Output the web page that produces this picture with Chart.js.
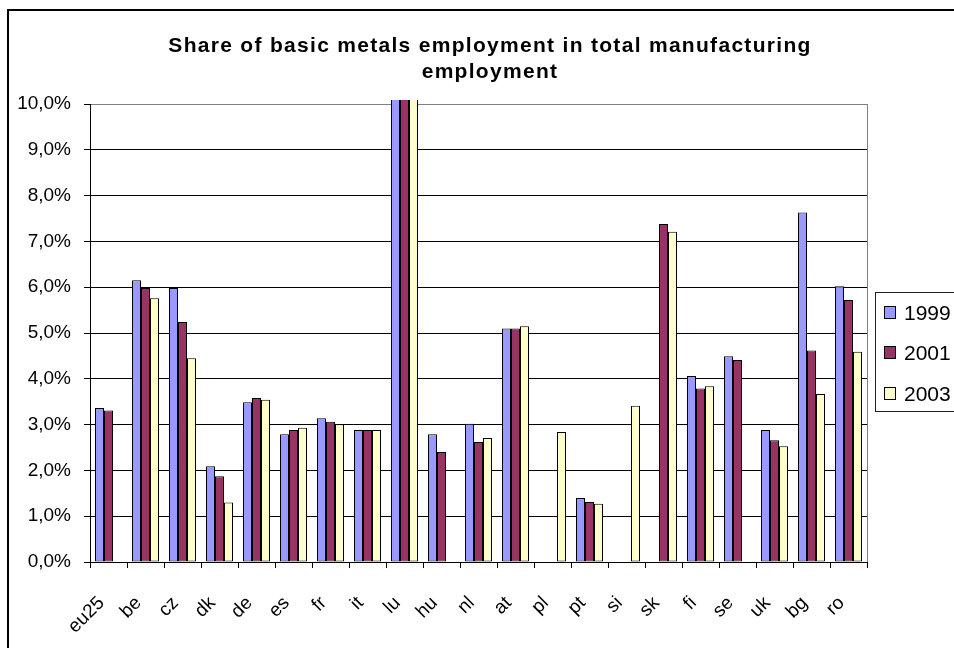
<!DOCTYPE html>
<html>
<head>
<meta charset="utf-8">
<script src="https://cdn.jsdelivr.net/npm/chart.js@4.4.1/dist/chart.umd.min.js"></script>
<style>
  html, body { margin: 0; padding: 0; background: #fff; }
  #wrap { position: relative; width: 954px; height: 648px; }
  canvas { display: block; }
</style>
</head>
<body>
<div id="wrap"><canvas id="c" width="954" height="648"></canvas></div>
<script>
const categories = ['eu25','be','cz','dk','de','es','fr','it','lu','hu','nl','at','pl','pt','si','sk','fi','se','uk','bg','ro'];
const seriesNames = ['1999','2001','2003'];
const values1999 = [3.36, 6.15, 5.98, 2.09, 3.49, 2.79, 3.14, 2.88, 11, 2.79, 3.02, 5.10, null, 1.40, null, null, 4.06, 4.49, 2.88, 7.63, 6.02];
const values2001 = [3.31, 5.98, 5.24, 1.87, 3.58, 2.88, 3.06, 2.88, 11, 2.40, 2.62, 5.10, null, 1.31, null, 7.38, 3.79, 4.41, 2.66, 4.62, 5.72];
const values2003 = [null, 5.76, 4.45, 1.30, 3.54, 2.93, 3.01, 2.88, 11, null, 2.71, 5.15, 2.84, 1.27, 3.41, 7.21, 3.84, null, 2.53, 3.67, 4.59];
const yTicks = [0,1,2,3,4,5,6,7,8,9,10];
const titleLines = ['Share of basic metals employment in total manufacturing', 'employment'];
const colors = ['#9999FF', '#993366', '#FFFFCC'];

const seriesValues = [values1999, values2001, values2003];

const decorPlugin = {
  id: 'decor',
  beforeDraw(chart) {
    const ctx = chart.ctx;
    ctx.save();
    ctx.fillStyle = '#fff';
    ctx.fillRect(0, 0, chart.width, chart.height);
    ctx.restore();
  },
  afterDraw(chart) {
    const ctx = chart.ctx;
    const a = chart.chartArea;
    ctx.save();
    // plot right border (gray)
    ctx.strokeStyle = '#808080';
    ctx.lineWidth = 1;
    ctx.beginPath();
    ctx.moveTo(Math.round(a.right) + 0.5, a.top);
    ctx.lineTo(Math.round(a.right) + 0.5, a.bottom);
    ctx.stroke();

    // outer frame
    ctx.strokeStyle = '#000';
    ctx.lineWidth = 2;
    ctx.strokeRect(8, 10, 1000, 700);

    // title
    ctx.fillStyle = '#000';
    ctx.font = 'bold 21px "Liberation Sans", Arial, sans-serif';
    ctx.textAlign = 'center';
    ctx.textBaseline = 'alphabetic';
    try { ctx.letterSpacing = '1.3px'; } catch (e) {}
    ctx.fillText(titleLines[0], 490, 52);
    ctx.fillText(titleLines[1], 490, 78);
    try { ctx.letterSpacing = '0px'; } catch (e) {}

    // legend
    ctx.strokeStyle = '#222';
    ctx.lineWidth = 1;
    ctx.strokeRect(875.5, 292.5, 120, 119);
    ctx.font = '21px "Liberation Sans", Arial, sans-serif';
    ctx.textAlign = 'left';
    ctx.textBaseline = 'middle';
    const centers = [313, 353, 394];
    chart.data.datasets.forEach((ds, i) => {
      const cy = centers[i];
      ctx.fillStyle = ds.backgroundColor;
      ctx.fillRect(884.5, cy - 6.5, 11, 12);
      ctx.strokeStyle = '#000';
      ctx.strokeRect(884.5, cy - 6.5, 11, 12);
      ctx.fillStyle = '#000';
      ctx.fillText(ds.label, 904, cy + 1);
    });
    ctx.restore();
  }
};

new Chart(document.getElementById('c'), {
  type: 'bar',
  data: {
    labels: categories,
    datasets: seriesNames.map((n, i) => ({
      label: n,
      data: seriesValues[i],
      backgroundColor: colors[i],
      borderColor: '#000',
      borderWidth: 1,
      borderSkipped: false,
      categoryPercentage: 0.73,
      barPercentage: 1.0,
      clip: { left: 5, top: 4, right: 5, bottom: 5 }
    }))
  },
  options: {
    responsive: false,
    animation: false,
    layout: { padding: { left: 0, right: 87, top: 104, bottom: 0 } },
    plugins: {
      legend: { display: false },
      title: { display: false },
      tooltip: { enabled: false }
    },
    scales: {
      x: {
        offset: true,
        grid: { offset: true, drawOnChartArea: false, drawTicks: true, tickLength: 6, color: '#000' },
        border: { color: '#000', width: 1 },
        ticks: {
          color: '#000',
          font: { family: '"Liberation Sans", Arial, sans-serif', size: 19 },
          maxRotation: 45, minRotation: 45,
          autoSkip: false,
          padding: 24,
          labelOffset: -7
        },
        afterFit(scale) { scale.height = 86; }
      },
      y: {
        min: 0, max: 10,
        afterBuildTicks(scale) { scale.ticks = yTicks.map(v => ({ value: v })); },
        grid: {
          color: (c) => (c.tick && c.tick.value === 10 ? '#808080' : '#000'),
          tickColor: '#000',
          tickLength: 6,
          lineWidth: 1
        },
        border: { color: '#000', width: 1 },
        ticks: {
          color: '#000',
          padding: 13,
          font: { family: '"Liberation Sans", Arial, sans-serif', size: 19 },
          callback: (v) => v.toFixed(1).replace('.', ',') + '%'
        },
        afterFit(scale) { scale.width = 90; }
      }
    }
  },
  plugins: [decorPlugin]
});
</script>
</body>
</html>
